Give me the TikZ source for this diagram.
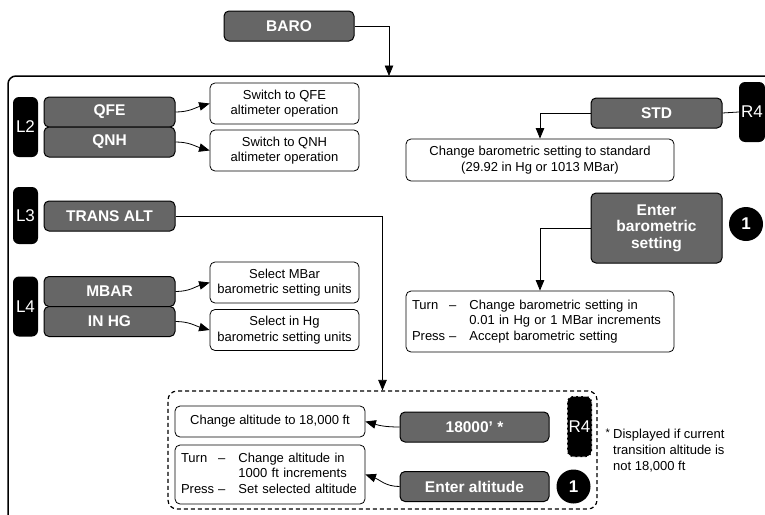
\documentclass[tikz,border=0pt]{standalone}
\usepackage{fontspec}
\setmainfont{Liberation Sans}
\usetikzlibrary{arrows.meta}
\definecolor{keygray}{RGB}{102,102,102}
\begin{document}
\begin{tikzpicture}[x=1pt,y=-1pt,
 key/.style={draw=black, line width=1pt, fill=keygray, rounded corners=5pt, text=white, font=\bfseries\fontsize{15.5}{16.5}\selectfont, inner sep=0pt, align=center},
 desc/.style={draw=black, line width=0.8pt, fill=white, rounded corners=5pt, font=\fontsize{13}{15.5}\selectfont, inner sep=0pt, align=center},
 turnbox/.style={desc, align=left, inner xsep=6pt, text width=#1},
 tab/.style={fill=black, rounded corners=6pt, text=white, font=\fontsize{17}{19}\selectfont, inner sep=0pt, minimum width=25pt},
 num/.style={circle, fill=black, text=white, font=\bfseries\fontsize{17}{19}\selectfont, minimum size=34pt, inner sep=0pt},
 conn/.style={line width=0.8pt, -{Triangle[length=10.5pt,width=8.5pt]}},
 plainline/.style={line width=0.8pt},
]
\useasboundingbox (0,0) rectangle (765,514);
\clip (0,0) rectangle (765,514);

% outer frame
\draw[line width=1.5pt, rounded corners=8pt] (8,530) -- (8,76) -- (780,76);
\coordinate (frametop) at (389,76);

% BARO
\node[key, minimum width=130pt, minimum height=30pt] (baro) at (289,26) {BARO};
\draw[conn] (baro.east) -| (frametop);

% Left column
\node[tab, minimum height=60pt] (l2) at (25.5,127) {L2};
\node[key, minimum width=131pt, minimum height=30pt] (qfe) at (109.5,112) {QFE};
\node[key, minimum width=131pt, minimum height=30pt] (qnh) at (109.5,142) {QNH};
\node[desc, minimum width=149pt, minimum height=41pt] (qfedesc) at (284.5,103.5) {Switch to QFE\\altimeter operation};
\node[desc, minimum width=149pt, minimum height=41pt] (qnhdesc) at (284.5,150.5) {Switch to QNH\\altimeter operation};
\draw[conn] (qfe.east) .. controls +(14,0) and +(-14,4) .. (qfedesc.west);
\draw[conn] (qnh.east) .. controls +(14,0) and +(-14,-4) .. (qnhdesc.west);

\node[tab, minimum height=57pt] (l3) at (25.5,215.5) {L3};
\node[key, minimum width=131pt, minimum height=30pt] (transalt) at (109.5,216) {TRANS ALT};

\node[tab, minimum height=60pt] (l4) at (25.5,306.5) {L4};
\node[key, minimum width=131pt, minimum height=30pt] (mbar) at (109.5,291.5) {MBAR};
\node[key, minimum width=131pt, minimum height=30pt] (inhg) at (109.5,321.5) {IN HG};
\node[desc, minimum width=149pt, minimum height=41pt] (mbardesc) at (284.5,282.5) {Select MBar\\barometric setting units};
\node[desc, minimum width=149pt, minimum height=41pt] (inhgdesc) at (284.5,330) {Select in Hg\\barometric setting units};
\draw[conn] (mbar.east) .. controls +(14,0) and +(-14,4) .. (mbardesc.west);
\draw[conn] (inhg.east) .. controls +(14,0) and +(-14,-4) .. (inhgdesc.west);

% Right column
\node[key, minimum width=131pt, minimum height=30pt] (std) at (656.5,113) {STD};
\node[tab, minimum height=60pt, minimum width=26pt] (r4top) at (752,112) {R4};
\draw[plainline] (std.east) -- (r4top.west);
\node[desc, minimum width=268pt, minimum height=42pt] (stdchange) at (540,160) {Change barometric setting to standard\\(29.92 in Hg or 1013 MBar)};
\draw[conn] (std.west) -| (stdchange.north);

\node[key, minimum width=131pt, minimum height=70pt] (enterbaro) at (656.5,228) {Enter\\barometric\\setting};
\node[num] (num1a) at (746,224) {1};
\node[turnbox=256pt, minimum height=61pt] (turnbaro) at (540,321.5) {%
\begin{tabular}{@{}l@{\hspace{4pt}}l@{\hspace{13pt}}l@{}}
Turn & – & Change barometric setting in\\
 & & 0.01 in Hg or 1 MBar increments\\
Press & – & Accept barometric setting
\end{tabular}};
\draw[conn] (enterbaro.west) -| (turnbaro.north);

% Dashed group
\node[draw, dashed, dash pattern=on 4pt off 3pt, line width=1.2pt, rounded corners=9pt, minimum width=429pt, minimum height=118pt, inner sep=0pt] (dashbox) at (382.5,450) {};
\draw[conn] (transalt.east) -| (dashbox.north);

\node[desc, minimum width=190pt, minimum height=31pt] (chalt) at (270,421.5) {Change altitude to 18,000 ft};
\node[turnbox=178pt, minimum height=59pt] (turnalt) at (270,474.5) {%
\begin{tabular}{@{}l@{\hspace{4pt}}l@{\hspace{13pt}}l@{}}
Turn & – & Change altitude in\\
 & & 1000 ft increments\\
Press & – & Set selected altitude
\end{tabular}};
\node[key, minimum width=149pt, minimum height=30pt] (k18000) at (474.5,427) {18000' *};
\node[key, minimum width=149pt, minimum height=30pt] (enteralt) at (474.5,486.5) {Enter altitude};
\draw[conn] (k18000.west) .. controls +(-14,0) and +(14,4) .. (chalt.east);
\draw[conn] (enteralt.west) .. controls +(-14,0) and +(14,5) .. (turnalt.east);
\node[tab, minimum height=61pt, draw=white, dashed, dash pattern=on 3pt off 2pt, line width=1pt] (r4dash) at (579.5,426.5) {R4};
\node[num] (num1b) at (573.5,486.5) {1};

% Footnote
\node[anchor=north west, align=left, font=\fontsize{13}{16}\selectfont, inner sep=0pt] (fnote) at (613,429) {Displayed if current\\transition altitude is\\not 18,000 ft};
\node[anchor=north east, font=\fontsize{11}{13}\selectfont, inner sep=0pt] (fstar) at ([xshift=-3pt]fnote.north west) {*};
\end{tikzpicture}
\end{document}
